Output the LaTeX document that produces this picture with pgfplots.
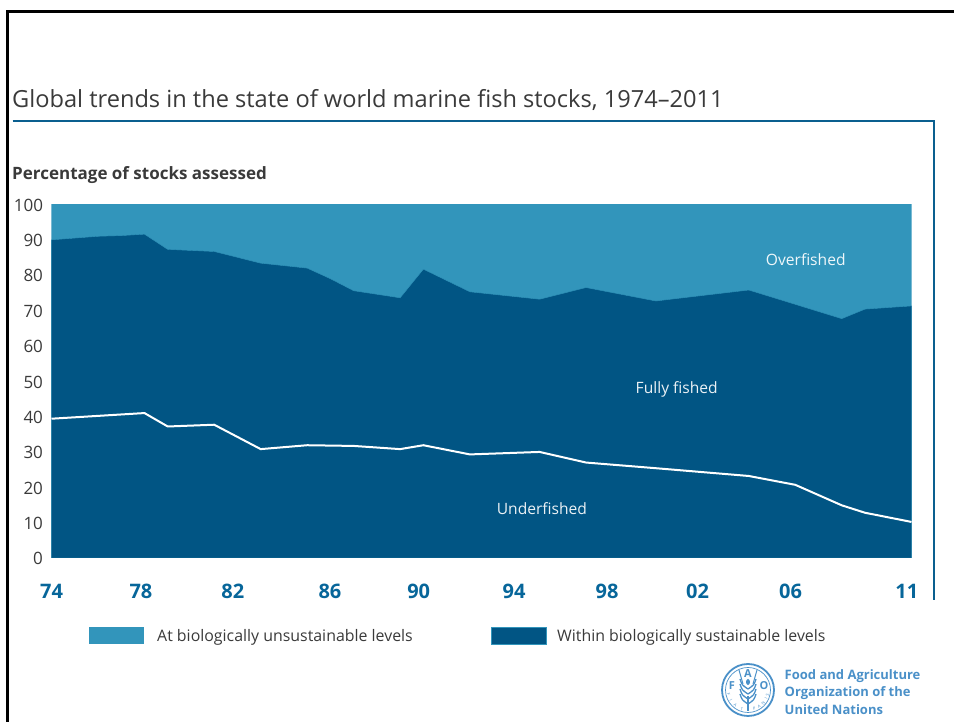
\documentclass[border=0pt]{standalone}
\usepackage{fontspec}
\setmainfont{Open Sans}
\usepackage{pgfplots}
\pgfplotsset{compat=1.18}
\usetikzlibrary{decorations.text}
\definecolor{overblue}{HTML}{3295BB}
\definecolor{withinblue}{HTML}{015584}
\definecolor{ruleblue}{HTML}{0A5F8F}
\definecolor{yearblue}{HTML}{07669A}
\definecolor{faoblue}{HTML}{4A90C8}
\definecolor{labelgrey}{HTML}{3A3A3A}
\begin{document}
\begin{tikzpicture}[x=1pt,y=1pt]
\useasboundingbox (0,0) rectangle (954,722);
% page frame and title rule
\draw[black,line width=2.6pt] (7.5,0) -- (7.5,722-11.5) -- (954,722-11.5);
\draw[ruleblue,line width=2pt] (12.5,722-121.5) -- (933.5,722-121.5) -- (933.5,722-600);
% headings
\node[anchor=base west,inner sep=0pt,text=labelgrey,font=\fontsize{23.6}{26}\selectfont] at (12,722-108) {Global trends in the state of world marine fish stocks, 1974–2011};
\node[anchor=base west,inner sep=0pt,text=labelgrey,font=\fontsize{17}{20}\selectfont\bfseries] at (12,722-179.5) {Percentage of stocks assessed};
\begin{axis}[
  at={(51.5pt,164pt)},anchor=south west,
  scale only axis,width=860pt,height=353.5pt,
  xmin=1974,xmax=2011,ymin=0,ymax=100,
  axis line style={draw=none},
  axis on top=false,
  tick style={draw=none},
  xtick={1974,1977.85,1981.8,1985.98,1989.8,1993.9,1997.9,2001.8,2005.8,2010.8},
  xticklabels={74,78,82,86,90,94,98,02,06,11},
  ytick={0,10,...,100},
  /pgf/number format/assume math mode=true,
  xticklabel style={text=yearblue,font=\fontsize{20}{22}\selectfont\bfseries,anchor=base,yshift=-41pt},
  yticklabel style={text=labelgrey,font=\fontsize{17}{20}\selectfont,anchor=east,xshift=-5pt,yshift=-0.7pt},
  legend style={at={(37.5pt,-69pt)},anchor=north west,draw=none,fill=none,
    legend columns=2,inner sep=0pt,
    font=\fontsize{15.9}{18}\selectfont,text=labelgrey,
    /tikz/every even column/.style={column sep=76pt}},
  legend cell align=left,
  legend image code/.code={\fill[#1] (0pt,-8.5pt) rectangle (55pt,8.5pt);},
]
\addplot[fill=overblue,draw=none] coordinates {(1974,100) (2011,100)} \closedcycle;
\addlegendentry{\hspace{11pt}At biologically unsustainable levels}
\addplot[fill=withinblue,draw=overblue,line width=0.4pt] coordinates {
 (1974,90) (1975,90.5) (1976,91) (1977,91.2) (1978,91.6) (1979,87.3) (1981,86.7)
 (1983,83.4) (1985,82) (1986,79) (1987,75.6) (1989,73.6) (1990,81.7) (1992,75.3)
 (1995,73.2) (1997,76.5) (2000,72.7) (2004,75.8) (2008,67.7) (2009,70.4) (2011,71.3)
} \closedcycle;
\addlegendentry{\hspace{9pt}Within biologically sustainable levels}
\addplot[forget plot,white,line width=2pt,line join=round] coordinates {
 (1974,39.4) (1976,40.2) (1978,41) (1979,37.2) (1981,37.7) (1983,30.8) (1985,31.9)
 (1987,31.7) (1989,30.8) (1990,31.9) (1992,29.3) (1995,30) (1997,27) (2000,25.4)
 (2004,23.2) (2006,20.7) (2008,14.9) (2009,12.8) (2011,10.2)
};
\node[text=white!92!overblue,font=\fontsize{15.6}{18}\selectfont] at (axis cs:2006.45,84.5) {Overfished};
\node[text=white!92!withinblue,font=\fontsize{15.6}{18}\selectfont] at (axis cs:2000.9,47.6) {Fully fished};
\node[text=white!92!withinblue,font=\fontsize{15.6}{18}\selectfont] at (axis cs:1995.1,14.1) {Underfished};
\end{axis}
% FAO emblem and name
\begin{scope}[shift={(748,722-690)},faoblue]
  \draw[line width=1.8pt] (0,0) circle (26);
  \draw[line width=0.7pt] (0,0) circle (22.5);
  \node[font=\fontsize{11}{12}\selectfont\bfseries] at (0,16) {A};
  \node[font=\fontsize{11}{12}\selectfont\bfseries] at (-16,4) {F};
  \node[font=\fontsize{11}{12}\selectfont\bfseries] at (16,4) {O};
  \draw[line width=1.2pt] (0,-21) -- (0,-6);
  \foreach \y in {-12,-7,-2,3}{
    \draw[line width=1.3pt] (-8,\y+8) .. controls (-6,\y+2) .. (0,\y-2);
    \draw[line width=1.3pt] (8,\y+8) .. controls (6,\y+2) .. (0,\y-2);
  }
  \fill (0,8) ellipse (2 and 3);
  \draw[line width=1pt] (-9,20) -- (-5,6) (9,20) -- (5,6);
  \path[postaction={decorate},decoration={text along path,raise=-2pt,
     text={|\fontsize{4.2}{5}\selectfont\color{faoblue}|FIAT},text align=fit to path}]
     (-19.2,-3.4) arc (190:255:19.5);
  \path[postaction={decorate},decoration={text along path,raise=-2pt,
     text={|\fontsize{4.2}{5}\selectfont\color{faoblue}|PANIS},text align=fit to path}]
     (5.05,-18.84) arc (285:350:19.5);
\end{scope}
\node[anchor=base west,inner sep=0pt,text=faoblue,font=\fontsize{13}{16}\selectfont\bfseries] at (784.5,722-680) {Food and Agriculture};
\node[anchor=base west,inner sep=0pt,text=faoblue,font=\fontsize{13}{16}\selectfont\bfseries] at (784.5,722-697) {Organization of the};
\node[anchor=base west,inner sep=0pt,text=faoblue,font=\fontsize{13}{16}\selectfont\bfseries] at (784.5,722-715) {United Nations};
\end{tikzpicture}
\end{document}
